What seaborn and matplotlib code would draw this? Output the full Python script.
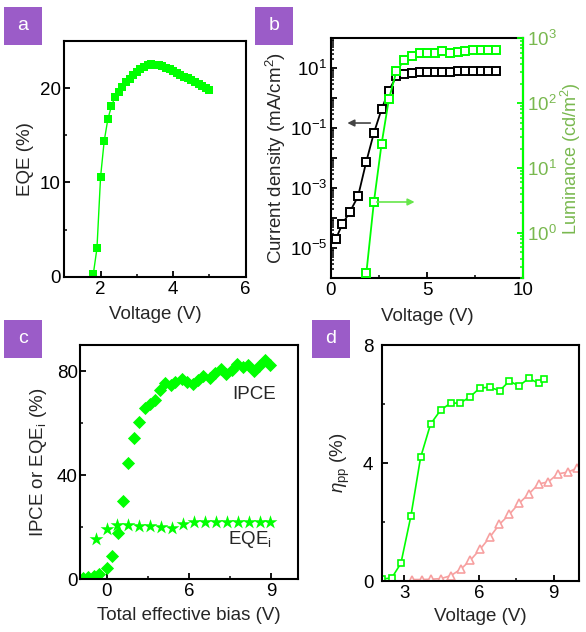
import numpy as np
import pandas as pd
import matplotlib
matplotlib.use('Agg')
import matplotlib.pyplot as plt
import seaborn as sns
from matplotlib.patches import Rectangle
from matplotlib.ticker import (FixedLocator, MultipleLocator, LogLocator,
                               FuncFormatter, NullFormatter, FixedFormatter)

# ---------------- data ----------------
# Panel a: EQE vs voltage
a_voltage = [1.8, 1.9, 2.0, 2.1, 2.2, 2.3, 2.4, 2.5, 2.6, 2.7, 2.8, 2.9, 3.0,
             3.1, 3.2, 3.3, 3.4, 3.5, 3.6, 3.7, 3.8, 3.9, 4.0, 4.1, 4.2, 4.3,
             4.4, 4.5, 4.6, 4.7, 4.8, 4.9, 5.0]
a_eqe = [0.3, 3.0, 10.6, 14.4, 16.7, 18.1, 19.1, 19.6, 20.1, 20.6, 21.0, 21.4,
         21.7, 22.0, 22.25, 22.45, 22.55, 22.5, 22.45, 22.3, 22.15, 22.0, 21.8,
         21.6, 21.4, 21.2, 21.05, 20.85, 20.65, 20.45, 20.25, 20.0, 19.75]

# Panel b: current density and luminance
b_j_voltage = [0.26, 0.6, 1.0, 1.42, 1.84, 2.24, 2.64, 3.02, 3.41, 3.83, 4.22,
               4.62, 5.01, 5.41, 5.8, 6.2, 6.6, 6.99, 7.39, 7.79, 8.18, 8.6]
b_current = [2.0e-5, 6.3e-5, 1.66e-4, 5.4e-4, 7.4e-3, 6.9e-2, 0.43, 1.8, 5.4,
             6.5, 7.2, 7.6, 7.6, 7.6, 7.6, 7.8, 7.9, 7.9, 8.3, 8.3, 8.3, 8.3]
b_l_voltage = [1.85, 2.24, 2.64, 3.02, 3.41, 3.83, 4.22, 4.62, 5.01, 5.41, 5.8,
               6.2, 6.6, 6.99, 7.39, 7.79, 8.18, 8.6]
b_luminance = [0.24, 2.95, 23.4, 115, 309, 468, 537, 589, 589, 589, 631, 603,
               617, 631, 661, 661, 661, 661]

# Panel c: IPCE and EQE_i vs total effective bias
c_ipce_bias = [-1.3, -1.0, -0.7, -0.4, 0.0, 0.3, 0.6, 0.9, 1.2, 1.5, 1.8, 2.1,
               2.35, 2.65, 2.9, 3.2, 3.5, 3.75, 4.1, 4.4, 4.7, 5.0, 5.3, 5.65,
               5.95, 6.25, 6.55, 6.85, 7.15, 7.45, 7.75, 8.05, 8.35, 8.65, 8.95]
c_ipce = [0.6, 0.9, 1.2, 2.2, 4.2, 9.0, 17.9, 30.0, 44.5, 54.1, 60.5, 65.7,
          67.5, 69.0, 72.6, 75.4, 74.5, 75.8, 77.1, 75.8, 74.9, 76.7, 78.0,
          77.5, 79.2, 80.9, 79.0, 80.5, 82.6, 81.6, 82.2, 80.0, 81.8, 84.1, 82.2]
c_eqei_bias = [-0.6, 0.0, 0.59, 1.19, 1.79, 2.38, 2.98, 3.58, 4.17, 4.77, 5.37,
               5.96, 6.56, 7.17, 7.77, 8.37, 8.96]
c_eqei = [15.5, 19.3, 20.7, 20.7, 20.4, 20.4, 20.2, 19.8, 21.1, 21.9, 22.1,
          22.1, 22.1, 22.0, 21.9, 21.9, 21.9]
c_tick_pos = [0, 4.5, 9]
c_tick_labels = ['0', '6', '9']

# Panel d: power conversion efficiency
d_green_v = [2.12, 2.5, 2.87, 3.27, 3.66, 4.06, 4.46, 4.86, 5.24, 5.64, 6.03,
             6.43, 6.83, 7.22, 7.6, 8.0, 8.39, 8.6]
d_green = [0.07, 0.1, 0.6, 2.2, 4.19, 5.32, 5.79, 6.03, 6.03, 6.24, 6.54, 6.57,
           6.45, 6.78, 6.61, 6.87, 6.7, 6.84]
d_red_v = [3.3, 3.7, 4.07, 4.47, 4.87, 5.27, 5.66, 6.04, 6.43, 6.82, 7.22, 7.6,
           8.0, 8.39, 8.78, 9.16, 9.56, 9.92]
d_red = [0.05, 0.05, 0.06, 0.08, 0.18, 0.40, 0.71, 1.07, 1.48, 1.92, 2.26, 2.63,
         2.95, 3.29, 3.36, 3.63, 3.69, 3.82]

# ---------------- style ----------------
FS = 13.5
sns.set_style('ticks')
plt.rcParams.update({
    'font.family': ['Liberation Sans', 'DejaVu Sans'],
    'font.size': FS,
    'mathtext.fontset': 'custom',
    'mathtext.rm': 'Liberation Sans',
    'mathtext.it': 'Liberation Sans:italic',
    'mathtext.bf': 'Liberation Sans:bold',
    'axes.linewidth': 1.5,
    'axes.edgecolor': 'black',
    'xtick.direction': 'in',
    'ytick.direction': 'in',
    'xtick.major.size': 4,
    'ytick.major.size': 4,
    'xtick.minor.size': 2.5,
    'ytick.minor.size': 2.5,
    'xtick.major.width': 1.3,
    'ytick.major.width': 1.3,
    'xtick.minor.width': 1.1,
    'ytick.minor.width': 1.1,
    'xtick.major.pad': 3,
    'ytick.major.pad': 2.5,
    'xtick.labelsize': FS,
    'ytick.labelsize': FS,
    'axes.labelsize': FS,
    'xtick.color': 'black',
    'ytick.color': 'black',
})

GREEN = '#00ff00'
LGREEN = '#79b84f'
PINK = '#f7a0a0'
PURPLE = '#9b5cc8'

W, H = 586, 632
fig = plt.figure(figsize=(W / 100, H / 100), dpi=100)


def rect(l, r, t, b):
    return [l / W, (H - b) / H, (r - l) / W, (b - t) / H]


# ---------- panel a ----------
axa = fig.add_axes(rect(64.3, 245.7, 41, 276.7))
sns.lineplot(x=a_voltage, y=a_eqe, ax=axa, color=GREEN, linewidth=1.0,
             marker='s', markersize=5.2, markeredgewidth=0,
             markerfacecolor=GREEN, errorbar=None)
axa.set_xlim(1, 6)
axa.set_ylim(0, 25)
axa.xaxis.set_major_locator(FixedLocator([2, 4, 6]))
axa.xaxis.set_minor_locator(FixedLocator([3, 5]))
axa.yaxis.set_major_locator(FixedLocator([0, 10, 20]))
axa.yaxis.set_minor_locator(FixedLocator([5, 15]))
axa.set_xlabel('Voltage (V)', labelpad=6)
axa.set_ylabel('EQE (%)', labelpad=4)

# ---------- panel b ----------
axb = fig.add_axes(rect(330.7, 523.3, 38.3, 278.3))
axb.set_yscale('log')
sns.lineplot(x=b_j_voltage, y=b_current, ax=axb, color='black', linewidth=1.3,
             marker='s', markersize=5.3, markerfacecolor='white',
             markeredgecolor='black', markeredgewidth=1.4, errorbar=None)
axb.set_xlim(0, 10)
axb.set_ylim(1e-6, 1e2)
axb.xaxis.set_major_locator(FixedLocator([0, 5, 10]))
axb.xaxis.set_minor_locator(FixedLocator([2.5, 7.5]))
axb.yaxis.set_major_locator(LogLocator(base=10, numticks=20))
axb.yaxis.set_minor_locator(LogLocator(base=10, subs=np.arange(2, 10), numticks=20))
axb.yaxis.set_minor_formatter(NullFormatter())


def odd_exp(v, pos):
    e = int(round(np.log10(v)))
    return r'$10^{%d}$' % e if e % 2 else ''


axb.yaxis.set_major_formatter(FuncFormatter(odd_exp))
axb.set_xlabel('Voltage (V)', labelpad=6)
axb.set_ylabel(r'Current density (mA/cm$^{2}$)', labelpad=1)
axb.annotate('', xy=(0.72, 0.15), xytext=(2.2, 0.15),
             arrowprops=dict(arrowstyle='-|>', color='#444444', lw=1.2,
                             mutation_scale=10))

axb2 = axb.twinx()
axb2.set_yscale('log')
sns.lineplot(x=b_l_voltage, y=b_luminance, ax=axb2, color=GREEN, linewidth=1.3,
             marker='s', markersize=5.3, markerfacecolor='white',
             markeredgecolor=GREEN, markeredgewidth=1.4, errorbar=None)
axb2.set_ylim(0.2, 1000)
axb2.yaxis.set_major_locator(LogLocator(base=10, numticks=20))
axb2.yaxis.set_minor_locator(LogLocator(base=10, subs=np.arange(2, 10), numticks=20))
axb2.yaxis.set_minor_formatter(NullFormatter())
axb2.spines['right'].set_color(GREEN)
axb2.tick_params(axis='y', which='both', colors=GREEN, labelcolor=LGREEN,
                 direction='in', pad=3)
axb2.set_ylabel(r'Luminance (cd/m$^{2}$)', color=LGREEN, labelpad=1,
                fontsize=13)
axb2.annotate('', xy=(4.5, 3.0), xytext=(2.25, 3.0),
              arrowprops=dict(arrowstyle='-|>', color='#66e64a', lw=1.2,
                              mutation_scale=10))

# ---------- panel c ----------
axc = fig.add_axes(rect(80, 297.7, 345, 579.3))
sns.scatterplot(x=c_ipce_bias, y=c_ipce, ax=axc, color=GREEN, marker='D',
                s=45, linewidth=0)
sns.scatterplot(x=c_eqei_bias, y=c_eqei, ax=axc, color=GREEN, marker='*',
                s=110, linewidth=0)
axc.set_xlim(-1.45, 10.45)
axc.set_ylim(0, 90)
axc.xaxis.set_major_locator(FixedLocator(c_tick_pos))
axc.xaxis.set_major_formatter(FixedFormatter(c_tick_labels))
axc.xaxis.set_minor_locator(FixedLocator([2.25, 6.75]))
axc.yaxis.set_major_locator(FixedLocator([0, 40, 80]))
axc.yaxis.set_minor_locator(FixedLocator([20, 60]))
axc.tick_params(axis='y', pad=1.5)
axc.set_xlabel('Total effective bias (V)', labelpad=5)
axc.set_ylabel(r'IPCE or EQE$_{\rm i}$ (%)', labelpad=6)
axc.text(9.25, 71, 'IPCE', ha='right', va='center', fontsize=FS)
axc.text(9.05, 15.3, r'EQE$_{\rm i}$', ha='right', va='center', fontsize=FS)

# ---------- panel d ----------
axd = fig.add_axes(rect(381.7, 578.7, 345, 581))
sns.lineplot(x=d_red_v, y=d_red, ax=axd, color=PINK, linewidth=1.2,
             marker='^', markersize=5.5, markerfacecolor='white',
             markeredgecolor=PINK, markeredgewidth=1.2, errorbar=None)
sns.lineplot(x=d_green_v, y=d_green, ax=axd, color=GREEN, linewidth=1.2,
             marker='s', markersize=4.3, markerfacecolor='white',
             markeredgecolor=GREEN, markeredgewidth=1.2, errorbar=None)
axd.set_xlim(2.1, 10)
axd.set_ylim(0, 8)
axd.xaxis.set_major_locator(FixedLocator([3, 6, 9]))
axd.xaxis.set_minor_locator(FixedLocator([4.5, 7.5]))
axd.yaxis.set_major_locator(FixedLocator([0, 4, 8]))
axd.yaxis.set_minor_locator(FixedLocator([2, 6]))
axd.tick_params(axis='y', pad=6)
axd.set_xlabel('Voltage (V)', labelpad=4)
axd.set_ylabel(r'$\eta_{\rm pp}$ (%)', labelpad=8)

for ax in (axa, axb, axc, axd):
    for s in ax.spines.values():
        s.set_visible(True)
        s.set_linewidth(1.5)
axb2.spines['right'].set_color(GREEN)
axb2.spines['right'].set_linewidth(1.5)
for s in ('left', 'top', 'bottom'):
    axb2.spines[s].set_visible(False)

# ---------- panel letters ----------
for letter, (l, t) in zip('abcd', [(4, 7), (255, 7), (4, 320), (312, 320)]):
    w, h = 38, 37.5
    fig.add_artist(Rectangle((l / W, (H - t - h) / H), w / W, h / H,
                             transform=fig.transFigure, facecolor=PURPLE,
                             edgecolor='none'))
    fig.text((l + w / 2) / W, (H - t - h / 2) / H, letter, color='white',
             ha='center', va='center', fontsize=14)

fig.savefig('out.png', dpi=100)
